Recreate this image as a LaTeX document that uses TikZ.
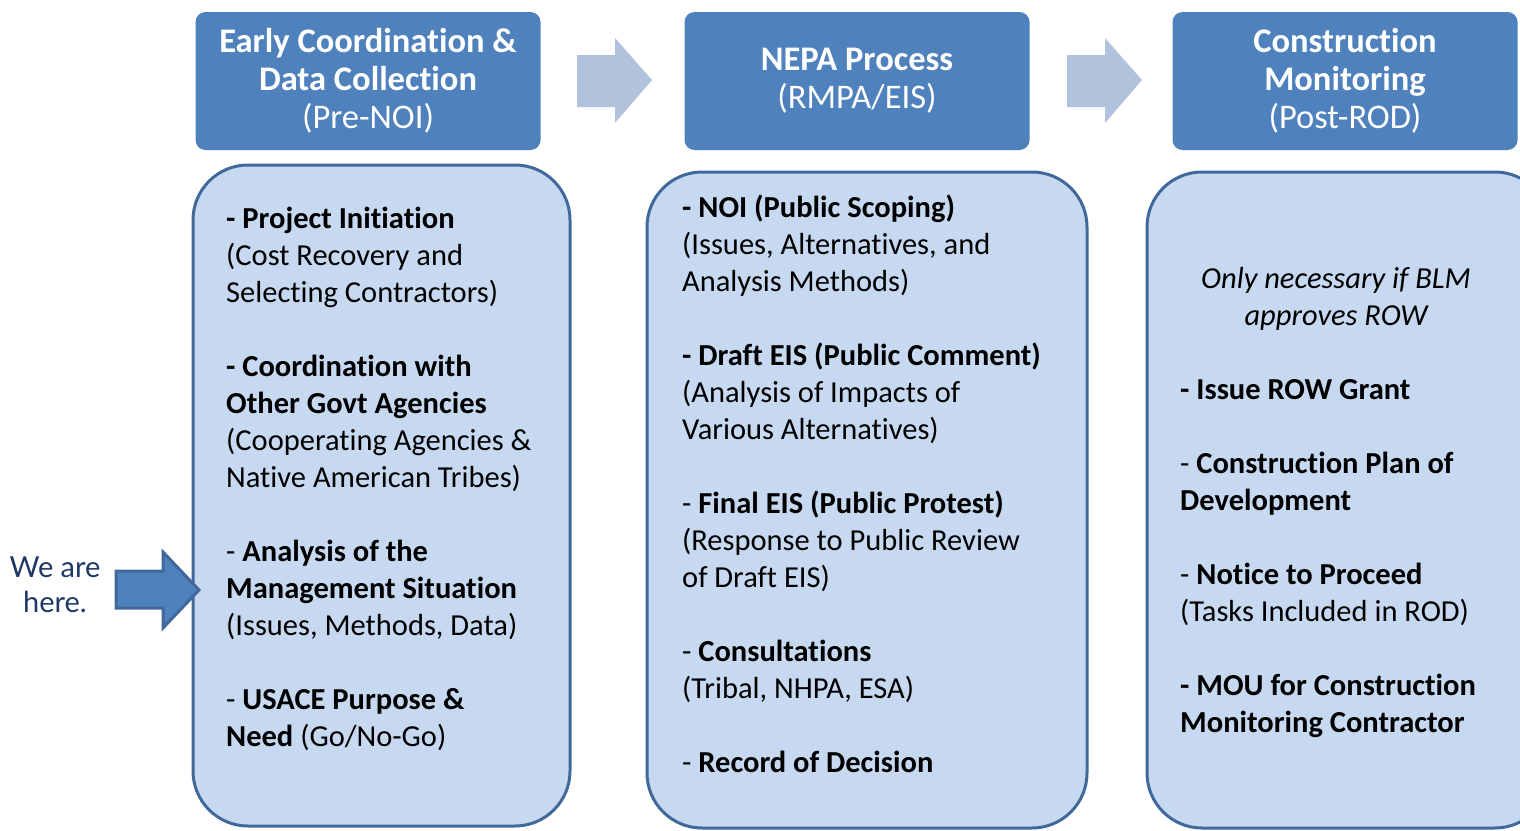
\documentclass[tikz,border=0pt]{standalone}
\usepackage{fontspec}
\setmainfont{Carlito}[Ligatures=CommonOff]
\newfontfamily\herefont{Lato}
\definecolor{headblue}{HTML}{4F81BD}
\definecolor{bodyblue}{HTML}{C6D9F1}
\definecolor{edgeblue}{HTML}{41689B}
\definecolor{stepgray}{HTML}{B2C2DD}
\definecolor{navy}{HTML}{1F3864}
\tikzset{
  phase/.style={fill=headblue,rounded corners=10pt,text=white,align=center,
    minimum width=345pt,minimum height=138pt,inner sep=0pt,
    font=\fontsize{34.5}{38}\selectfont},
  panel/.style={fill=bodyblue,draw=edgeblue,line width=3pt,rounded corners=55pt},
  itemtext/.style={anchor=base west,align=left,inner sep=0pt,
    font=\fontsize{30.5}{37}\selectfont}
}
\begin{document}
\begin{tikzpicture}[x=1pt,y=-1pt]
\useasboundingbox (0,0) rectangle (1520,830);
% headers
\node[phase] (pre) at (368,81) {\textbf{Early Coordination \&}\\\textbf{Data Collection}\\(Pre-NOI)};
\node[phase] (nepa) at (857,81) {\textbf{NEPA Process}\\(RMPA/EIS)};
\node[phase] (post) at (1345,81) {\textbf{Construction}\\\textbf{Monitoring}\\(Post-ROD)};
% arrows between headers
\foreach \x in {0,490} % edit here for the arrows
\fill[stepgray,shift={(\x,0)}] (577,55) -- (615,55) -- (615,38) -- (652,80) -- (615,123) -- (615,107) -- (577,107) -- cycle;
% panels
\draw[panel] (193,165) rectangle (570,826);
\draw[panel] (647,172) rectangle (1087,828);
\draw[panel] (1147,172) rectangle (1550,828);
% panel texts (placed by their last line)
\node[itemtext] (pretext) at (226,746) {\textbf{- Project Initiation}\\(Cost Recovery and\\Selecting Contractors)\\[37pt]
\textbf{- Coordination with}\\\textbf{Other Govt Agencies}\\(Cooperating Agencies \&\\Native American Tribes)\\[37pt]
- \textbf{Analysis of the}\\\textbf{Management Situation}\\(Issues, Methods, Data)\\[37pt]
- \textbf{USACE Purpose \&}\\\textbf{Need} (Go/No-Go)};
\node[itemtext] (nepatext) at (682,772) {\textbf{- NOI (Public Scoping)}\\(Issues, Alternatives, and\\Analysis Methods)\\[37pt]
\textbf{- Draft EIS (Public Comment)}\\(Analysis of Impacts of\\Various Alternatives)\\[37pt]
- \textbf{Final EIS (Public Protest)}\\(Response to Public Review\\of Draft EIS)\\[37pt]
- \textbf{Consultations}\\(Tribal, NHPA, ESA)\\[37pt]
- \textbf{Record of Decision}};
\node[itemtext,anchor=base,align=center] (note) at (1336,325) {\itshape Only necessary if BLM\\\itshape approves ROW};
\node[itemtext] (posttext) at (1180,732) {\textbf{- Issue ROW Grant}\\[37pt]
- \textbf{Construction Plan of}\\\textbf{Development}\\[37pt]
- \textbf{Notice to Proceed}\\(Tasks Included in ROD)\\[37pt]
\textbf{- MOU for Construction}\\\textbf{Monitoring Contractor}};
% we are here
\node[align=center,text=navy,font=\herefont\fontsize{29}{35}\selectfont] (here) at (55,585) {We are\\here.};
\draw[fill=headblue,draw=edgeblue,line width=3pt,line join=miter] (116,571) -- (163,571) -- (163,552) -- (199,590) -- (163,628) -- (163,608) -- (116,608) -- cycle;
\end{tikzpicture}
\end{document}
